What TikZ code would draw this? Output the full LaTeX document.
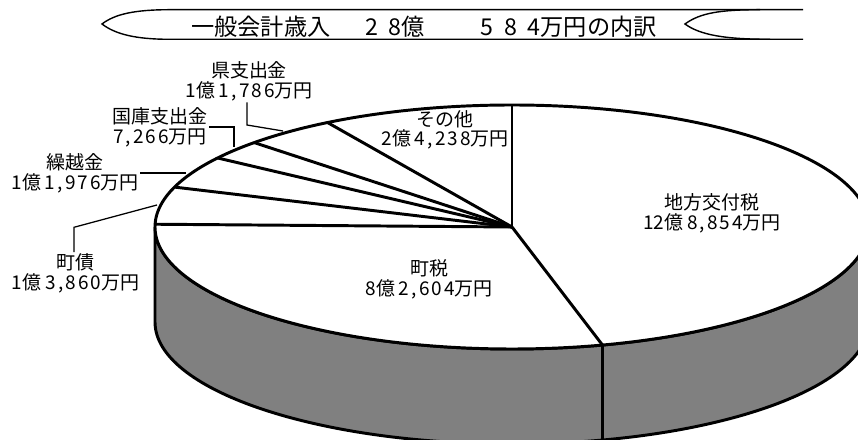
\documentclass[tikz,border=0pt]{standalone}
\usepackage{fontspec}
\setmainfont{Noto Sans CJK JP}
\usetikzlibrary{calc}
\newcommand{\man}[2]{{\addfontfeature{LetterSpace=10}#1\hspace{0.12em},\hspace{0.12em}#2}万円}
\newcommand{\oku}[3]{#1億\hspace{0.2em}\man{#2}{#3}}

\begin{document}
\begin{tikzpicture}[x=0.025cm, y=0.025cm,
    pie/.style={line width=2.1pt},
    leader/.style={line width=0.9pt},
    banner/.style={line width=1pt},
    lbl/.style={align=center, inner sep=1pt, font=\fontsize{13.5}{14}\selectfont}]
        \useasboundingbox (0,0) rectangle (858,440);
        \clip (0,0) rectangle (858,440);
        % title banner
        \draw[banner] (803,430.3) -- (170,430.3) .. controls (135,430.3) and (115,426) .. (102,416)
            .. controls (115,406) and (135,400.7) .. (170,400.7) -- (803,400.7);
        \draw[banner] (760,430.3) .. controls (720,430.3) and (700,427) .. (685,416)
            .. controls (700,405) and (725,400.7) .. (770,400.7);
        \node[font=\fontsize{16.5}{18}\selectfont, inner sep=0pt] (title) at (424,413.5)
            {一般会計歳入\hspace{1.5em}2\hspace{0.46em}8億\hspace{2.4em}5\hspace{0.46em}8\hspace{0.46em}4万円の内訳};
        % pie, centre at (512,213)
        \begin{scope}[shift={(512,213)}]
            \filldraw[pie, fill=gray] (180:357 and 122) -- ++(0,-95)
                arc[start angle=180, end angle=360, x radius=357, y radius=122] -- ++(0,95)
                arc[start angle=360, end angle=180, x radius=357, y radius=122] -- cycle;
            \filldraw[pie, fill=white] (0,0) ellipse [x radius=357, y radius=122];
            \foreach \a in {90,-75.32,178.7,160.92,145.55,136.23,121.11}
                \draw[pie] (0,0) -- (\a:357 and 122);
            \draw[pie] (-75.32:357 and 122) -- ++(0,-95);
        \end{scope}
        % labels
        \node[lbl] (chiho) at (712,227) {地方交付税\\\oku{12}{8}{854}};
        \node[lbl] (chozei) at (429,161) {町税\\\oku{8}{2}{604}};
        \node[lbl] (sonota) at (445,310) {その他\\\oku{2}{4}{238}};
        \node[lbl] (ken) at (249,359) {県支出金\\\oku{1}{1}{786}};
        \node[lbl] (kokko) at (160,313) {国庫支出金\\\man{7}{266}};
        \node[lbl] (kuri) at (75,267) {繰越金\\\oku{1}{1}{976}};
        \node[lbl] (chosai) at (75.5,166.5) {町債\\\oku{1}{3}{860}};
        % leaders
        \coordinate (kenbend) at (247,315);
        \coordinate (kenrim) at (283,309);
        \coordinate (kokkorim) at (234,293);
        \coordinate (kuririm) at (186,267);
        \coordinate (chosaibend) at (74,212.7);
        \coordinate (chosairim) at (157,235);
        \draw[leader] (ken.south -| kenbend) -- (kenbend) -- (kenrim);
        \draw[leader] (kokko.east) -| (kokkorim);
        \draw[leader] (kuri.east) -- (kuririm);
        \draw[leader] (chosai.north -| chosaibend) -- (chosaibend) -- (chosairim);
\end{tikzpicture}
\end{document}
